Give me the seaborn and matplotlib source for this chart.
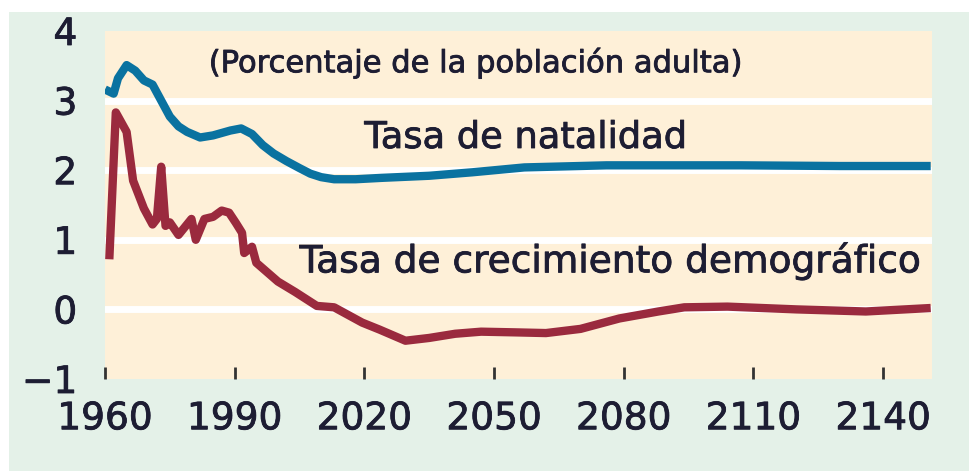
import matplotlib
matplotlib.use("Agg")
import matplotlib.pyplot as plt
import matplotlib.patheffects as pe
import seaborn as sns
from matplotlib.patches import Rectangle

# Tasa de natalidad (azul)
years_natalidad = [1960, 1962, 1963, 1965, 1967, 1969, 1971, 1973, 1975, 1977,
                   1979, 1982, 1985, 1989, 1991.5, 1994, 1996.5, 1999, 2002,
                   2005, 2007.5, 2010, 2013, 2018, 2024, 2035, 2045, 2057,
                   2076, 2107, 2130, 2151]
natalidad = [3.16, 3.10, 3.32, 3.51, 3.43, 3.29, 3.23, 3.00, 2.77, 2.63,
             2.55, 2.47, 2.50, 2.57, 2.60, 2.52, 2.36, 2.24, 2.13,
             2.03, 1.95, 1.90, 1.87, 1.87, 1.89, 1.92, 1.97, 2.04,
             2.07, 2.07, 2.06, 2.06]

# Tasa de crecimiento demográfico (rojo)
years_crecimiento = [1961, 1962.5, 1965, 1966.5, 1969, 1971, 1972, 1973, 1974,
                     1975, 1977, 1980, 1981, 1983, 1985, 1987, 1988.7, 1990.3,
                     1991.7, 1992.2, 1994, 1995, 2000, 2004, 2009, 2013,
                     2019.5, 2023.5, 2029.5, 2035, 2041, 2047, 2055, 2062,
                     2070, 2079, 2088, 2094, 2104, 2120, 2136, 2151]
crecimiento = [0.72, 2.83, 2.55, 1.85, 1.45, 1.22, 1.30, 2.05, 1.20,
               1.25, 1.07, 1.30, 1.00, 1.30, 1.33, 1.42, 1.39, 1.24,
               1.10, 0.81, 0.90, 0.67, 0.40, 0.25, 0.05, 0.03,
               -0.19, -0.29, -0.45, -0.41, -0.35, -0.32, -0.33, -0.34,
               -0.28, -0.13, -0.03, 0.03, 0.04, 0.00, -0.03, 0.02]

x_ticks = [1960, 1990, 2020, 2050, 2080, 2110, 2140]
y_ticks = [-1, 0, 1, 2, 3, 4]
grid_vals = [0, 1, 2, 3]

sns.set_style("white")
plt.rcParams['font.family'] = ['DejaVu Sans']

txt = '#1d1d33'
heavy = [pe.withStroke(linewidth=0.6, foreground=txt)]

fig = plt.figure(figsize=(9.69, 4.71), dpi=100, facecolor='white')
fig.patches.append(Rectangle((9 / 969, 0), 1, 1 - 12 / 471, transform=fig.transFigure,
                             facecolor='#e4f1e8', edgecolor='none', zorder=-1))
ax = fig.add_axes([105 / 969, 1 - 379 / 471, (932 - 105) / 969, (379 - 31) / 471])
ax.set_facecolor('#fef0d8')

for v in grid_vals:
    ax.axhline(v, color='white', lw=5, zorder=1)

sns.lineplot(x=years_natalidad, y=natalidad, ax=ax, color='#0a72a0', lw=6,
             zorder=3, solid_joinstyle='round', solid_capstyle='butt')
sns.lineplot(x=years_crecimiento, y=crecimiento, ax=ax, color='#9a2a3e', lw=6,
             zorder=3, solid_joinstyle='round', solid_capstyle='butt')

ax.set_xlim(1960, 2151.3)
ax.set_ylim(-1, 4)
ax.set_xticks(x_ticks)
ax.set_yticks(y_ticks)
ax.set_xlabel('')
ax.set_ylabel('')
for s in ax.spines.values():
    s.set_visible(False)
ax.tick_params(axis='x', bottom=True, direction='in', length=9, width=2,
               color='#333333', pad=16, labelsize=27, labelcolor=txt)
ax.tick_params(axis='y', left=False, length=0, pad=20, labelsize=27,
               labelcolor=txt)
for lab in ax.get_xticklabels() + ax.get_yticklabels():
    lab.set_path_effects(heavy)

ax.text(1984, 3.54, '(Porcentaje de la población adulta)', fontsize=22,
        color=txt, va='center', ha='left', zorder=4, path_effects=heavy)
ax.text(2020, 2.47, 'Tasa de natalidad', fontsize=26.5, color=txt,
        va='center', ha='left', zorder=4, path_effects=heavy)
ax.text(2005, 0.69, 'Tasa de crecimiento demográfico', fontsize=27, color=txt,
        va='center', ha='left', zorder=4, path_effects=heavy)

fig.savefig('out.png', dpi=100)
